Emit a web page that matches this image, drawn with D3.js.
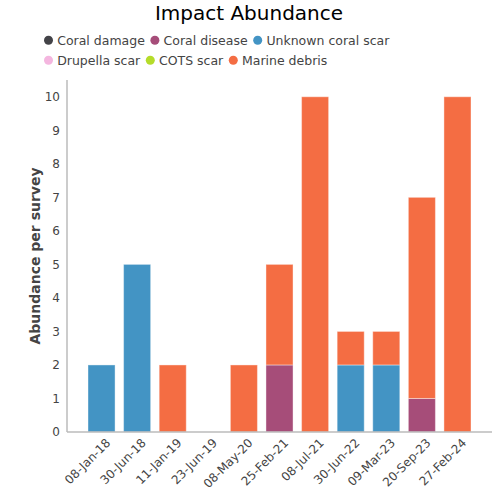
<!DOCTYPE html>
<html><head><meta charset="utf-8">
<script src="https://cdn.jsdelivr.net/npm/d3@7"></script>
<style>body{margin:0;background:#fff}</style>
</head><body>
<svg id="c" width="500" height="500"></svg>
<script>
const categories = ["08-Jan-18","30-Jun-18","11-Jan-19","23-Jun-19","08-May-20","25-Feb-21","08-Jul-21","30-Jun-22","09-Mar-23","20-Sep-23","27-Feb-24"];
const seriesNames = ["Coral damage","Coral disease","Unknown coral scar","Drupella scar","COTS scar","Marine debris"];
const seriesColors = ["#434348","#a64d79","#4394c4","#f4b6df","#b5dc2a","#f46d43"];
const coralDamage   = [0,0,0,0,0,0,0,0,0,0,0];
const coralDisease  = [0,0,0,0,0,2,0,0,0,1,0];
const unknownScar   = [2,5,0,0,0,0,0,2,2,0,0];
const drupellaScar  = [0,0,0,0,0,0,0,0,0,0,0];
const cotsScar      = [0,0,0,0,0,0,0,0,0,0,0];
const marineDebris  = [0,0,2,0,2,3,10,1,1,6,10];
const yTicks = [0,1,2,3,4,5,6,7,8,9,10];

const seriesValues = [coralDamage, coralDisease, unknownScar, drupellaScar, cotsScar, marineDebris];
const table = categories.map((c,i)=>{const o={cat:c}; seriesNames.forEach((s,j)=>o[s]=seriesValues[j][i]); return o;});
const stacked = d3.stack().keys(seriesNames)(table);

const svg = d3.select("#c");
const font = "DejaVu Sans, Verdana, sans-serif";
const textCol = "#444";
const m = {l:67, r:492, t:80, b:432};

const x = d3.scaleBand().domain(categories).range([m.l, m.r]).paddingInner(0.24).paddingOuter(0.59);
const y = d3.scaleLinear().domain([0,10.5]).range([m.b, m.t]);

// title
svg.append("text").attr("x",249).attr("y",20).attr("text-anchor","middle")
  .attr("font-family",font).attr("font-size",20).attr("fill","#000").text("Impact Abundance");

// legend
const leg = svg.append("g");
let lx = 48.5, ly = 40.3;
seriesNames.forEach((s,i)=>{
  if(i===3){ lx = 48.5; ly = 60.3; }
  leg.append("circle").attr("cx",lx).attr("cy",ly).attr("r",4.5).attr("fill",seriesColors[i]);
  const t = leg.append("text").attr("x",lx+8.7).attr("y",ly+4.3).attr("font-family",font)
    .attr("font-size",12.5).attr("fill",textCol).text(s);
  const w = t.node().getComputedTextLength();
  lx = lx + 8.7 + w + 10;
});

// bars
const g = svg.append("g");
stacked.forEach((layer,j)=>{
  g.selectAll(null).data(layer.filter(d=>d[1]-d[0]>0)).enter().append("rect")
    .attr("x",d=>x(d.data.cat)).attr("width",x.bandwidth())
    .attr("y",d=>y(d[1])).attr("height",d=>y(d[0])-y(d[1]))
    .attr("fill",seriesColors[j]).attr("stroke","#fff").attr("stroke-opacity",0.4).attr("stroke-width",1);
});

// y axis
const ya = svg.append("g").attr("transform",`translate(${m.l},0)`)
  .call(d3.axisLeft(y).tickValues(yTicks).tickSize(0).tickPadding(7));
ya.select(".domain").attr("stroke","#bbb").attr("stroke-width",1.5)
  .attr("d",`M0,${m.t}V${m.b}`);
ya.selectAll("text").attr("font-family",font).attr("font-size",12).attr("fill",textCol);

// x axis
const xa = svg.append("g").attr("transform",`translate(0,${m.b})`)
  .call(d3.axisBottom(x).tickSize(0).tickPadding(8));
xa.select(".domain").attr("stroke","#bbb").attr("stroke-width",1.5).attr("d",`M${m.l},0H${m.r}`);
xa.selectAll("text").attr("font-family",font).attr("font-size",12).attr("fill",textCol)
  .attr("text-anchor","end").attr("dy","0.35em")
  .attr("transform","translate(1,3) rotate(-45)");

// y label
svg.append("text").attr("transform",`translate(40,${(m.t+m.b)/2}) rotate(-90)`)
  .attr("text-anchor","middle").attr("font-family",font).attr("font-size",14)
  .attr("font-weight","bold").attr("fill",textCol).text("Abundance per survey");
</script>
</body></html>
